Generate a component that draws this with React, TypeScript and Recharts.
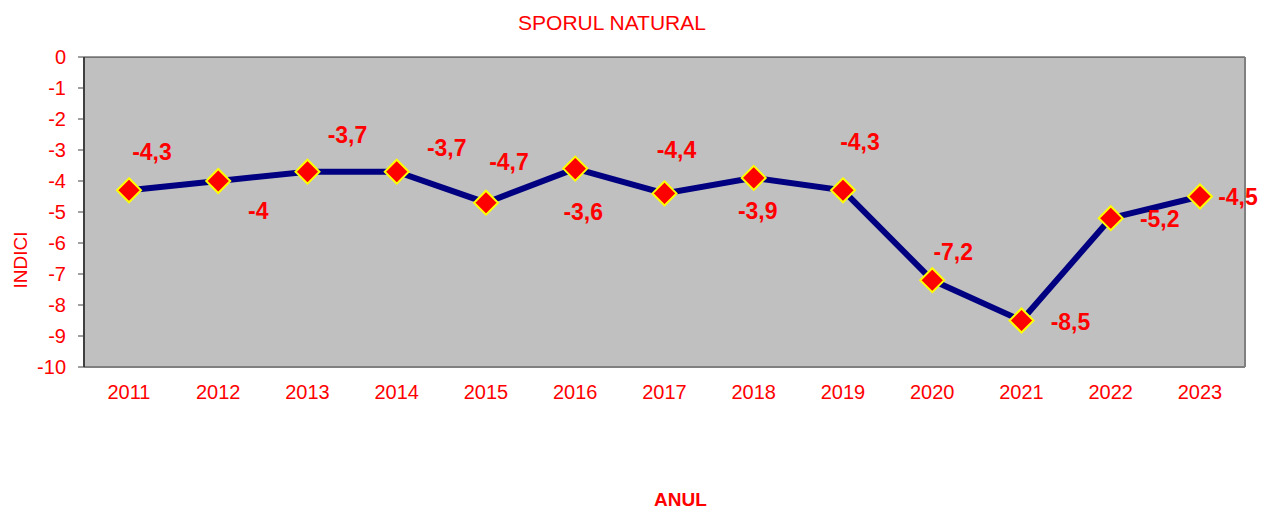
import React from "react";
import {
  LineChart,
  Line,
  XAxis,
  YAxis,
  CartesianGrid,
  LabelList,
  Label,
} from "recharts";

const years = ["2011", "2012", "2013", "2014", "2015", "2016", "2017", "2018", "2019", "2020", "2021", "2022", "2023"];
const values = [-4.3, -4, -3.7, -3.7, -4.7, -3.6, -4.4, -3.9, -4.3, -7.2, -8.5, -5.2, -4.5];
const yTicks = [0, -1, -2, -3, -4, -5, -6, -7, -8, -9, -10];

// where each value label sits relative to its marker (dx, dy)
const labelOffsets: Array<[number, number]> = [
  [23, -38], [40, 30], [40, -37], [50, -24], [23, -41], [8, 43], [12, -43],
  [4, 33], [17, -48], [21, -28], [49, 1], [49, 1], [38, 0],
];

const data = years.map((year, i) => ({ year, value: values[i] }));

const RED = "#ff0000";
const FONT = "'Liberation Sans', Arial, sans-serif";

const fmt = (v: number) => String(v).replace(".", ",");

const Diamond = (props: any) => {
  const { cx, cy } = props;
  if (cx == null || cy == null) return null;
  const r = 12;
  return (
    <polygon
      points={`${cx},${cy - r} ${cx + r},${cy} ${cx},${cy + r} ${cx - r},${cy}`}
      fill={RED}
      stroke="#ffff00"
      strokeWidth={2}
    />
  );
};

const ValueLabel = (props: any) => {
  const { x, y, value, index } = props;
  const [dx, dy] = labelOffsets[index] || [0, -20];
  return (
    <text
      x={x + dx}
      y={y + dy}
      textAnchor="middle"
      dominantBaseline="central"
      fill={RED}
      fontFamily={FONT}
      fontWeight="bold"
      fontSize={23}
    >
      {fmt(value)}
    </text>
  );
};

export default function App() {
  return (
    <div style={{ position: "absolute", left: 0, top: 0, width: 1261, height: 510, background: "#fff" }}>
      <div
        style={{
          position: "absolute",
          top: 11,
          left: 462,
          width: 300,
          textAlign: "center",
          color: RED,
          fontFamily: FONT,
          fontSize: 21,
        }}
      >
        SPORUL NATURAL
      </div>
      <LineChart
        width={1261}
        height={510}
        data={data}
        margin={{ top: 57, right: 0, left: 0, bottom: 0 }}
      >
        <CartesianGrid vertical={false} stroke="#000" fill="#c0c0c0" strokeOpacity={0.8} />
        <XAxis
          dataKey="year"
          height={143}
          padding={{ left: 45, right: 45 }}
          axisLine={{ stroke: "#808080", strokeWidth: 2 }}
          tickLine={false}
          tickMargin={12}
          interval={0}
          tick={{ fill: RED, fontFamily: FONT, fontSize: 20 }}
        >
          <Label
            value="ANUL"
            position="insideBottom"
            offset={4}
            fill={RED}
            fontFamily={FONT}
            fontWeight="bold"
            fontSize={19}
            dx={16}
          />
        </XAxis>
        <YAxis
          yAxisId="left"
          width={84}
          domain={[-10, 0]}
          ticks={yTicks}
          interval={0}
          axisLine={{ stroke: "#404040", strokeWidth: 2 }}
          tickLine={{ stroke: "#404040" }}
          tickSize={6}
          tickMargin={12}
          tick={{ fill: RED, fontFamily: FONT, fontSize: 20 }}
        >
          <Label
            content={() => (
              <text
                x={20}
                y={260}
                transform="rotate(-90 20 260)"
                textAnchor="middle"
                dominantBaseline="central"
                fill={RED}
                fontFamily={FONT}
                fontSize={19}
              >
                INDICI
              </text>
            )}
          />
        </YAxis>
        <YAxis
          yAxisId="right"
          orientation="right"
          width={16}
          domain={[-10, 0]}
          tick={false}
          tickLine={false}
          axisLine={{ stroke: "#808080", strokeWidth: 2 }}
        />
        <Line
          yAxisId="left"
          type="linear"
          dataKey="value"
          stroke="#000080"
          strokeWidth={6}
          dot={<Diamond />}
          activeDot={false}
          isAnimationActive={false}
        >
          <LabelList dataKey="value" content={<ValueLabel />} />
        </Line>
      </LineChart>
    </div>
  );
}
